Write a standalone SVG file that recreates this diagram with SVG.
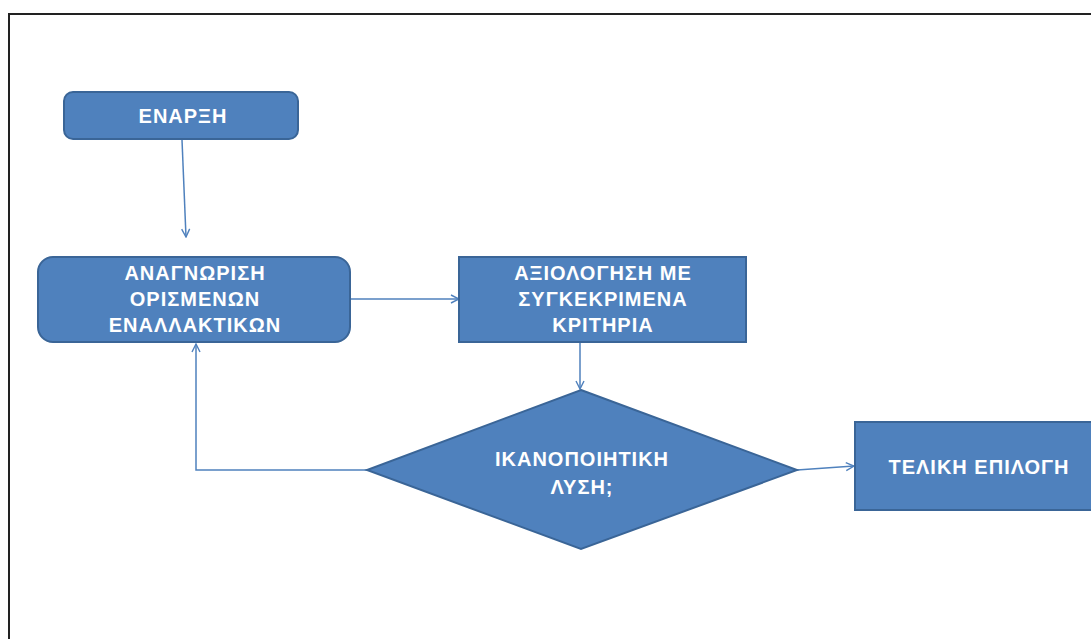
<svg xmlns="http://www.w3.org/2000/svg" width="1091" height="639" viewBox="0 0 1091 639">
<defs>
<marker id="arr" viewBox="0 0 10 10" refX="9" refY="5" markerWidth="10" markerHeight="10" markerUnits="userSpaceOnUse" orient="auto">
<path d="M1,1 L9,5 L1,9" fill="none" stroke="#4F81BD" stroke-width="1.4"/>
</marker>
<style>
.n{fill:#4F81BD;stroke:#3A6597;stroke-width:2}
.t{font-family:"Liberation Sans",Arial,sans-serif;font-weight:bold;font-size:20px;fill:#FFFFFF;text-anchor:middle;letter-spacing:1px}
.c{fill:none;stroke:#4F81BD;stroke-width:1.5}
</style>
</defs>
<rect x="0" y="0" width="1091" height="639" fill="#FFFFFF"/>
<path d="M9,639 L9,14 L1091,14" fill="none" stroke="#222222" stroke-width="2"/>
<g id="connectors">
<path class="c" d="M182,140 L186,237" marker-end="url(#arr)"/>
<path class="c" d="M350,299 L459,299" marker-end="url(#arr)"/>
<path class="c" d="M580,342 L580,389" marker-end="url(#arr)"/>
<path class="c" d="M367,470 L196,470 L196,344" marker-end="url(#arr)"/>
<path class="c" d="M797,470 L854,466" marker-end="url(#arr)"/>
</g>
<g id="start">
<rect class="n" x="64" y="92" width="234" height="47" rx="9"/>
<text class="t" x="183" y="123">ΕΝΑΡΞΗ</text>
</g>
<g id="identify">
<rect class="n" x="38" y="257" width="312" height="85" rx="15"/>
<text class="t" x="195" y="280">ΑΝΑΓΝΩΡΙΣΗ</text>
<text class="t" x="195" y="306">ΟΡΙΣΜΕΝΩΝ</text>
<text class="t" x="195" y="332">ΕΝΑΛΛΑΚΤΙΚΩΝ</text>
</g>
<g id="evaluate">
<rect class="n" x="459" y="257" width="287" height="85"/>
<text class="t" x="603" y="280">ΑΞΙΟΛΟΓΗΣΗ ΜΕ</text>
<text class="t" x="603" y="306">ΣΥΓΚΕΚΡΙΜΕΝΑ</text>
<text class="t" x="603" y="332">ΚΡΙΤΗΡΙΑ</text>
</g>
<g id="decision">
<polygon class="n" points="581,390 797,470 581,549 367,470" stroke-width="1"/>
<text class="t" x="582" y="466">ΙΚΑΝΟΠΟΙΗΤΙΚΗ</text>
<text class="t" x="582" y="494">ΛΥΣΗ;</text>
</g>
<g id="final">
<rect class="n" x="855" y="422" width="250" height="88"/>
<text class="t" x="979" y="474">ΤΕΛΙΚΗ ΕΠΙΛΟΓΗ</text>
</g>
</svg>
